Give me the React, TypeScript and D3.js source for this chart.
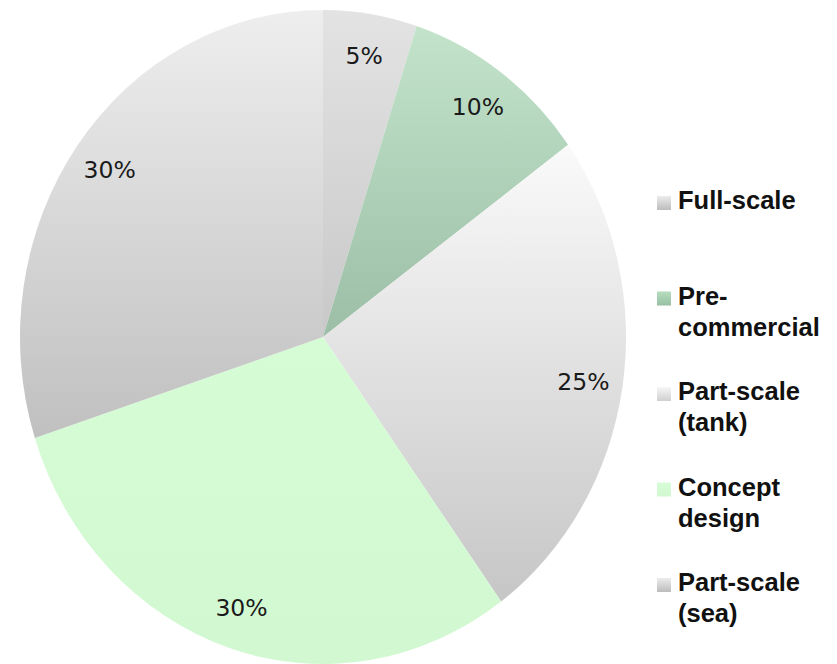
import React from "react";
import * as d3 from "d3";

const categories = ["Full-scale", "Pre-commercial", "Part-scale (tank)", "Concept design", "Part-scale (sea)"];
const values = [5, 10, 25, 30, 30];
const valueLabels = ["5%", "10%", "25%", "30%", "30%"];
const legendLines = [["Full-scale"], ["Pre-", "commercial"], ["Part-scale", "(tank)"], ["Concept", "design"], ["Part-scale", "(sea)"]];
const sliceTop = ["#e3e3e3", "#c3e4cb", "#fafafa", "#d5fcd5", "#eeeeee"];
const sliceBottom = ["#c8c8c8", "#9cbea6", "#c6c6c6", "#d2f8d2", "#c0c0c0"];
const markerTop = ["#ececec", "#b4dcbd", "#f6f6f6", "#d8fcd8", "#ececec"];
const markerBottom = ["#bcbcbc", "#98c0a2", "#cfcfcf", "#d0f8d0", "#bcbcbc"];

const W = 837;
const H = 664;
const cx = 323;
const cy = 337;
const rx = 303;
const ry = 327;

export default function App() {
  const pie = d3.pie<number>().sort(null).value((d) => d).startAngle(0).endAngle(2 * Math.PI);
  const arcs = pie(values);
  const arc = d3.arc<d3.PieArcDatum<number>>().innerRadius(0).outerRadius(ry);
  const labelArc = d3.arc<d3.PieArcDatum<number>>().innerRadius(ry * 0.87).outerRadius(ry * 0.87);
  const sx = rx / ry;

  const legendX = 657;
  const legendBase = 209;
  const legendStep = 95.5;
  const lineH = 31;

  return (
    <svg width={W} height={H} style={{ position: "absolute", left: 0, top: 0, display: "block" }}>
      <defs>
        {categories.map((c, i) => (
          <linearGradient key={"g" + i} id={"slice" + i} x1="0" y1="0" x2="0" y2="1">
            <stop offset="0%" stopColor={sliceTop[i]} />
            <stop offset="100%" stopColor={sliceBottom[i]} />
          </linearGradient>
        ))}
        {categories.map((c, i) => (
          <linearGradient key={"m" + i} id={"marker" + i} x1="0" y1="0" x2="0" y2="1">
            <stop offset="0%" stopColor={markerTop[i]} />
            <stop offset="100%" stopColor={markerBottom[i]} />
          </linearGradient>
        ))}
      </defs>
      <rect width={W} height={H} fill="#ffffff" />
      <g transform={`translate(${cx},${cy}) scale(${sx},1)`}>
        {arcs.map((a, i) => (
          <path key={i} d={arc(a) || ""} fill={`url(#slice${i})`} />
        ))}
      </g>
      {arcs.map((a, i) => {
        const [lx, ly] = labelArc.centroid(a);
        return (
          <text
            key={"l" + i}
            x={cx + lx * sx}
            y={cy + ly}
            textAnchor="middle"
            dominantBaseline="central"
            fontFamily="'DejaVu Sans', sans-serif"
            fontSize={23.5}
            fill="#1a1a1a"
          >
            {valueLabels[i]}
          </text>
        );
      })}
      {legendLines.map((lines, i) => {
        const base = legendBase + i * legendStep;
        return (
          <g key={"lg" + i}>
            <rect x={legendX} y={base - 13} width={14} height={14} fill={`url(#marker${i})`} />
            {lines.map((t, j) => (
              <text
                key={j}
                x={legendX + 21}
                y={base + j * lineH}
                fontFamily="'Liberation Sans', Arial, sans-serif"
                fontWeight="bold"
                fontSize={25.5}
                fill="#111111"
              >
                {t}
              </text>
            ))}
          </g>
        );
      })}
    </svg>
  );
}
